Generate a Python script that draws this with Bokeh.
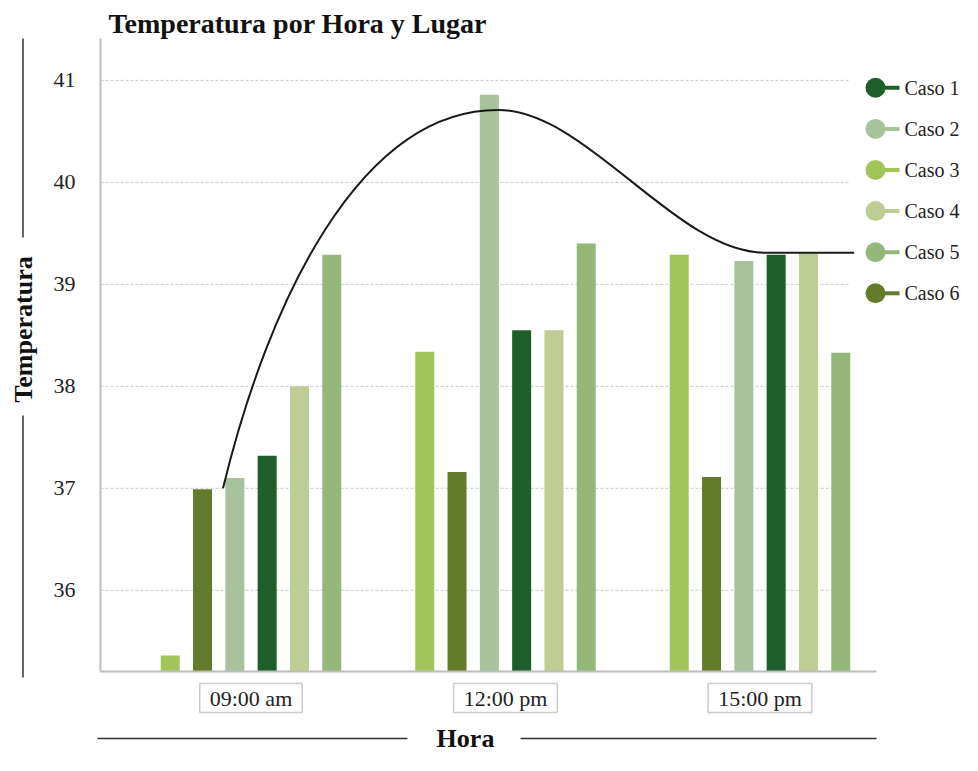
import numpy as np
from bokeh.plotting import figure
from bokeh.models import Range1d, FixedTicker, Label, Arrow, ColumnDataSource
from bokeh.core.properties import value
from bokeh.embed import file_html
from bokeh.resources import INLINE

# ---------------- data ----------------
horas = ["09:00 am", "12:00 pm", "15:00 pm"]
casos = ["Caso 1", "Caso 2", "Caso 3", "Caso 4", "Caso 5", "Caso 6"]
caso_1 = [37.32, 38.55, 39.29]
caso_2 = [37.10, 40.86, 39.23]
caso_3 = [35.36, 38.34, 39.29]
caso_4 = [38.00, 38.55, 39.31]
caso_5 = [39.29, 39.40, 38.33]
caso_6 = [36.99, 37.16, 37.11]
y_ticks = [36, 37, 38, 39, 40, 41]
# trend line, x in hour-index units
tendencia_x = [-0.11, 0.97, 2.02, 2.37]
tendencia_y = [37.00, 40.71, 39.31, 39.31]

valores = {"Caso 1": caso_1, "Caso 2": caso_2, "Caso 3": caso_3,
           "Caso 4": caso_4, "Caso 5": caso_5, "Caso 6": caso_6}
colores = {"Caso 1": "#1e5e28", "Caso 2": "#a8c29c", "Caso 3": "#a2c55a",
           "Caso 4": "#bdcd93", "Caso 5": "#94b87a", "Caso 6": "#657b2c"}
orden_barras = ["Caso 3", "Caso 6", "Caso 2", "Caso 1", "Caso 4", "Caso 5"]

# ---------------- layout (canvas pixels -> data units) ----------------
W, H = 962, 755
UNIT = 254.5          # px per hour group
G0 = 250.5            # px of first group centre
PX_PER_DEG = 101.97
PY_REF, V_REF = 334.83, 38.5

def px2x(fx):
    return (fx - G0) / UNIT

def px2y(fy):
    return V_REF - (fy - PY_REF) / PX_PER_DEG

AX_L, AX_R, AX_T, AX_B = 100, 876, 38, 671
Y_BASE = px2y(AX_B)

SERIF = "Liberation Serif"
SLOT = 32.3 / UNIT
BAR_W = 19 / UNIT

p = figure(width=W, height=H, output_backend="svg", toolbar_location=None,
           x_range=Range1d(px2x(0), px2x(W)), y_range=Range1d(px2y(H), px2y(0)),
           min_border_left=0, min_border_right=0, min_border_top=0,
           min_border_bottom=0, title=None)
p.outline_line_color = None
p.xgrid.visible = False
p.ygrid.visible = False
p.background_fill_color = "white"
p.border_fill_color = "white"

# axes (placed inside the canvas at fixed data locations)
p.yaxis.fixed_location = px2x(AX_L)
p.yaxis.bounds = (Y_BASE, px2y(AX_T))
p.yaxis.ticker = FixedTicker(ticks=y_ticks)
p.yaxis.axis_line_color = "#bdbdbd"
p.yaxis.axis_line_width = 2
p.yaxis.major_tick_line_color = None
p.yaxis.minor_tick_line_color = None
p.yaxis.major_tick_out = 0
p.yaxis.major_tick_in = 0
p.yaxis.major_label_standoff = 25
p.yaxis.major_label_text_font = SERIF
p.yaxis.major_label_text_font_size = "22px"
p.yaxis.major_label_text_color = "#222222"

p.xaxis.fixed_location = Y_BASE
p.xaxis.bounds = (px2x(AX_L), px2x(AX_R))
p.xaxis.ticker = FixedTicker(ticks=[])
p.xaxis.axis_line_color = "#bdbdbd"
p.xaxis.axis_line_width = 2
p.xaxis.major_tick_line_color = None
p.xaxis.minor_tick_line_color = None

# gridlines
n_t = len(y_ticks)
p.segment(x0=[px2x(AX_L)] * n_t, y0=y_ticks, x1=[px2x(849)] * n_t, y1=y_ticks,
          line_color="#c8c8c8", line_width=1, line_dash="3 2", level="underlay")

# bars
idx = np.arange(len(horas))
for k, caso in enumerate(orden_barras):
    src = ColumnDataSource(dict(x=idx + (k - 2.5) * SLOT, top=valores[caso],
                                hora=horas))
    p.vbar(x="x", top="top", bottom=Y_BASE, width=BAR_W, source=src,
           fill_color=colores[caso], line_color=None)

# trend curve (cubic bezier pieces through the points)
tx = np.array(tendencia_x, dtype=float)
ty = np.array(tendencia_y, dtype=float)
h = np.diff(tx)
s = np.diff(ty) / h
n = len(tx)
m = np.zeros(n)
for i in range(1, n - 1):
    if s[i - 1] * s[i] > 0:
        pp = (s[i - 1] * h[i] + s[i] * h[i - 1]) / (h[i - 1] + h[i])
        m[i] = np.sign(s[i]) * min(2 * abs(s[i - 1]), 2 * abs(s[i]), abs(pp))
m[0] = 3 * s[0]
m[-1] = (3 * s[-1] - m[-2]) / 2
a_out = np.full(n - 1, 1 / 3)
a_in = np.full(n - 1, 1 / 3)
a_out[0], a_in[0] = 1 / 6, 1 / 2
p.bezier(x0=tx[:-1], y0=ty[:-1], x1=tx[1:], y1=ty[1:],
         cx0=tx[:-1] + a_out * h, cy0=ty[:-1] + a_out * h * m[:-1],
         cx1=tx[1:] - a_in * h, cy1=ty[1:] - a_in * h * m[1:],
         line_color="#1a1a1a", line_width=2)

# legend (drawn to the right of the plot area)
n_c = len(casos)
leg_y = [px2y(87.3 + 41.1 * i) for i in range(n_c)]
leg_cols = [colores[c] for c in casos]
p.segment(x0=[px2x(875)] * n_c, y0=leg_y, x1=[px2x(899)] * n_c, y1=leg_y,
          line_color=leg_cols, line_width=4)
p.scatter(x=[px2x(875)] * n_c, y=leg_y, size=20, marker="circle",
          fill_color=leg_cols, line_color=None)
p.text(x=[px2x(904)] * n_c, y=leg_y, text=casos, text_font=value(SERIF),
       text_font_size=value("20px"), text_baseline="middle",
       text_align="left", text_color="#222222")

# x category labels in boxes
for i, hora in enumerate(horas):
    p.add_layout(Label(x=i, y=px2y(697.5), text=hora, text_font=SERIF,
                       text_font_size="22px", text_color="#222222",
                       text_align="center", text_baseline="middle",
                       border_line_color="#cccccc", border_line_width=1.5,
                       background_fill_color="white",
                       padding=dict(left=10, right=10, top=2, bottom=2)))

# title
p.add_layout(Label(x=px2x(108), y=px2y(23), text="Temperatura por Hora y Lugar",
                   text_font=SERIF, text_font_size="28px",
                   text_font_style="bold", text_color="#111111",
                   text_align="left", text_baseline="middle"))

# y axis title with side rules
p.add_layout(Label(x=px2x(23), y=px2y(329), text="Temperatura", angle=90,
                   angle_units="deg", text_font=SERIF, text_font_size="26px",
                   text_font_style="bold", text_color="#111111",
                   text_align="center", text_baseline="middle"))
for (ya, yb) in [(38, 237), (415, 677)]:
    p.add_layout(Arrow(start=None, end=None, x_start=px2x(22.5), y_start=px2y(ya),
                       x_end=px2x(22.5), y_end=px2y(yb),
                       line_color="#333333", line_width=1.5))

# x axis title with side rules
HORA_Y = 738
p.add_layout(Label(x=px2x(465), y=px2y(HORA_Y), text="Hora", text_font=SERIF,
                   text_font_size="26px", text_font_style="bold",
                   text_color="#111111", text_align="center",
                   text_baseline="middle"))
for (xa, xb) in [(97, 407), (520, 876)]:
    p.add_layout(Arrow(start=None, end=None, x_start=px2x(xa), y_start=px2y(HORA_Y),
                       x_end=px2x(xb), y_end=px2y(HORA_Y),
                       line_color="#333333", line_width=1.5))

open("out.html", "w").write(file_html(p, INLINE))
